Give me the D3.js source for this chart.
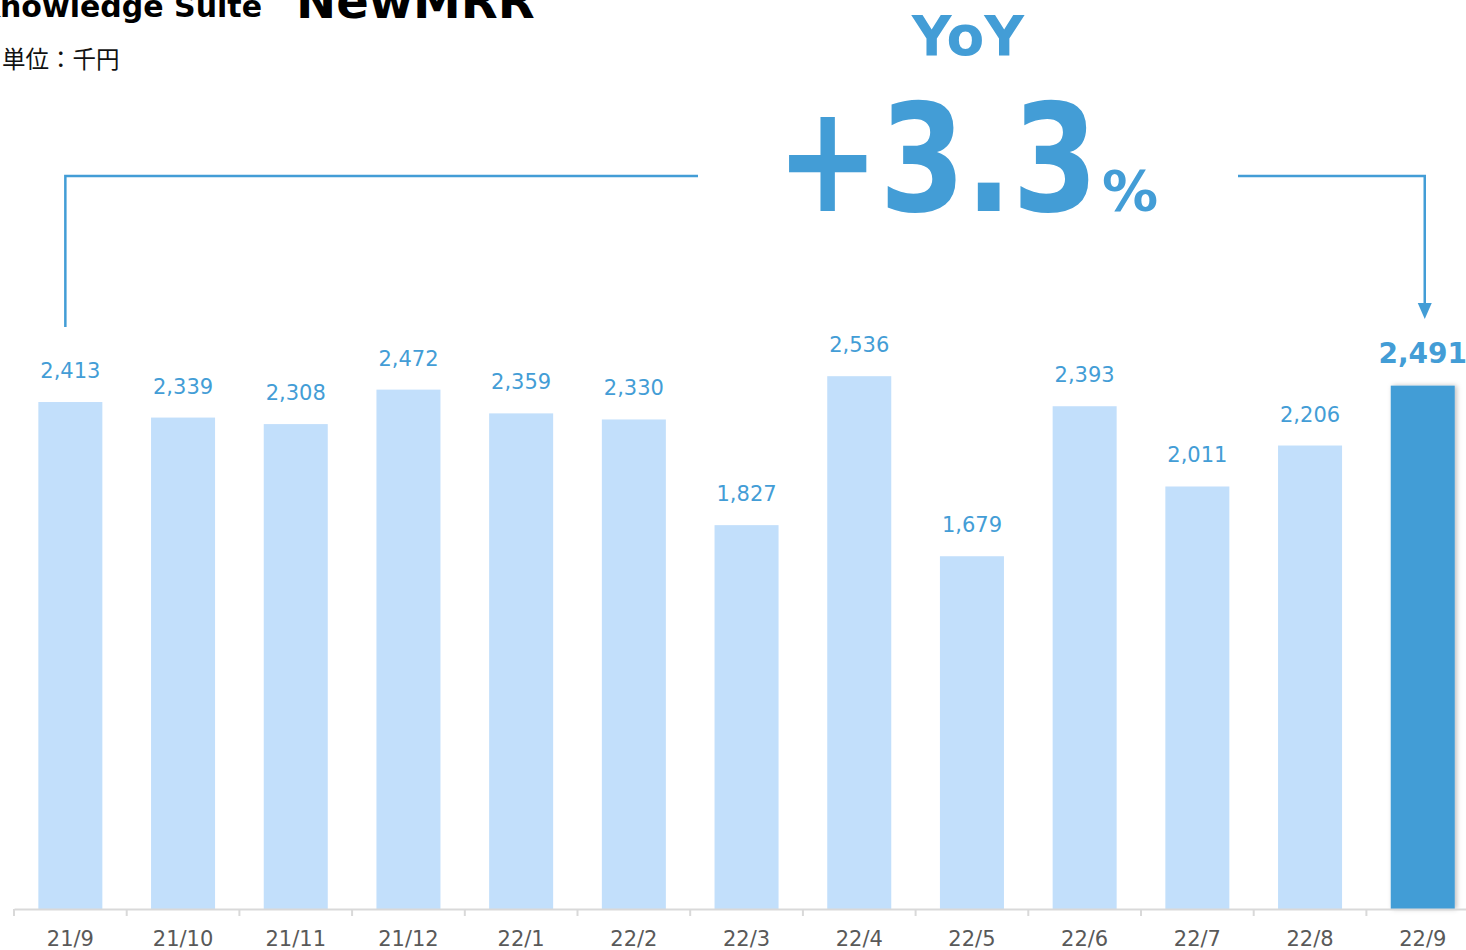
<!DOCTYPE html>
<html>
<head>
<meta charset="utf-8">
<script src="https://cdn.jsdelivr.net/npm/d3@7"></script>
<style>
  body { margin: 0; background: #fff; }
  svg { display: block; font-family: "DejaVu Sans", Verdana, sans-serif; }
</style>
</head>
<body>
<div id="chart"></div>
<script>
// months and NewMRR values (千円)
var months = ["21/9", "21/10", "21/11", "21/12", "22/1", "22/2", "22/3", "22/4", "22/5", "22/6", "22/7", "22/8", "22/9"];
var values = [2413, 2339, 2308, 2472, 2359, 2330, 1827, 2536, 1679, 2393, 2011, 2206, 2491];
var yoyText = "+3.3";

var width = 1466, height = 950;
var baseY = 909;

var svg = d3.select("#chart")
  .append("svg")
  .attr("width", width)
  .attr("height", height);

var defs = svg.append("defs");
var shadow = defs.append("filter").attr("id", "shadow")
  .attr("x", "-20%").attr("y", "-5%").attr("width", "140%").attr("height", "110%");
shadow.append("feDropShadow")
  .attr("dx", 2).attr("dy", 0).attr("stdDeviation", 2.5)
  .attr("flood-color", "#000").attr("flood-opacity", 0.25);

var x = d3.scaleBand()
  .domain(months)
  .range([14, 14 + 13 * 112.7])
  .paddingInner(0.432)
  .paddingOuter(0.216);

var y = d3.scaleLinear()
  .domain([0, 3000])
  .range([baseY, baseY - 3000 * 0.2101]);

var last = months.length - 1;

// bars
svg.append("g")
  .selectAll("rect")
  .data(values)
  .enter()
  .append("rect")
  .attr("x", (d, i) => x(months[i]))
  .attr("y", d => y(d))
  .attr("width", x.bandwidth())
  .attr("height", d => baseY - y(d))
  .attr("fill", (d, i) => i == last ? "#439dd6" : "#c2dffb")
  .attr("filter", (d, i) => i == last ? "url(#shadow)" : null);

// value labels
svg.append("g")
  .selectAll("text")
  .data(values)
  .enter()
  .append("text")
  .text(d => d3.format(",")(d))
  .attr("x", (d, i) => x(months[i]) + x.bandwidth() / 2)
  .attr("y", (d, i) => i == last ? y(d) - 23 : y(d) - 24)
  .attr("text-anchor", "middle")
  .attr("font-size", (d, i) => i == last ? "28px" : "21px")
  .attr("font-weight", (d, i) => i == last ? "bold" : "normal")
  .attr("fill", "#439dd6");

// x axis
var axis = d3.axisBottom(x).tickSize(0).tickPadding(22);
var gx = svg.append("g")
  .attr("transform", "translate(0," + baseY + ")")
  .call(axis);
gx.select(".domain").attr("stroke", "#d9d9d9").attr("stroke-width", 2);
gx.selectAll("text")
  .attr("font-family", "DejaVu Sans, Verdana, sans-serif")
  .attr("font-size", "21px")
  .attr("fill", "#595959");

// boundary ticks
gx.append("g")
  .selectAll("line")
  .data(d3.range(months.length + 1))
  .enter()
  .append("line")
  .attr("x1", i => 14 + i * x.step())
  .attr("x2", i => 14 + i * x.step())
  .attr("y1", 0)
  .attr("y2", 7)
  .attr("stroke", "#d9d9d9")
  .attr("stroke-width", 2);

// YoY bracket
var blue = "#439dd6";
var x0 = x(months[0]) + x.bandwidth() / 2 - 5;
var x1 = x(months[last]) + x.bandwidth() / 2 + 2;
var bracketY = 176;

svg.append("path")
  .attr("d", "M" + x0 + "," + 327 + "V" + bracketY + "H698")
  .attr("fill", "none")
  .attr("stroke", blue)
  .attr("stroke-width", 2.5);

svg.append("path")
  .attr("d", "M1238," + bracketY + "H" + x1 + "V305")
  .attr("fill", "none")
  .attr("stroke", blue)
  .attr("stroke-width", 2.5);

svg.append("path")
  .attr("d", "M" + (x1 - 7) + ",303L" + (x1 + 7) + ",303L" + x1 + ",319Z")
  .attr("fill", blue);

// YoY text
svg.append("text")
  .text("YoY")
  .attr("x", 968)
  .attr("y", 55)
  .attr("text-anchor", "middle")
  .attr("font-size", "55px")
  .attr("font-weight", "bold")
  .attr("fill", blue);

svg.append("text")
  .text(yoyText)
  .attr("x", 776)
  .attr("y", 211)
  .attr("font-size", "150px")
  .attr("font-weight", "bold")
  .attr("textLength", 322)
  .attr("lengthAdjust", "spacingAndGlyphs")
  .attr("fill", blue);

svg.append("text")
  .text("%")
  .attr("x", 1102)
  .attr("y", 210)
  .attr("font-size", "56px")
  .attr("font-weight", "bold")
  .attr("fill", blue);

// title
svg.append("text")
  .text("Knowledge Suite")
  .attr("x", 262)
  .attr("y", 17)
  .attr("text-anchor", "end")
  .attr("font-size", "30px")
  .attr("font-weight", "bold")
  .attr("fill", "#000");

svg.append("text")
  .text("NewMRR")
  .attr("x", 296)
  .attr("y", 18)
  .attr("font-size", "48px")
  .attr("font-weight", "bold")
  .attr("fill", "#000");

svg.append("text")
  .text("単位：千円")
  .attr("x", 2)
  .attr("y", 68)
  .attr("font-family", "Noto Sans CJK JP, sans-serif")
  .attr("font-size", "23.5px")
  .attr("fill", "#111");
</script>
</body>
</html>
